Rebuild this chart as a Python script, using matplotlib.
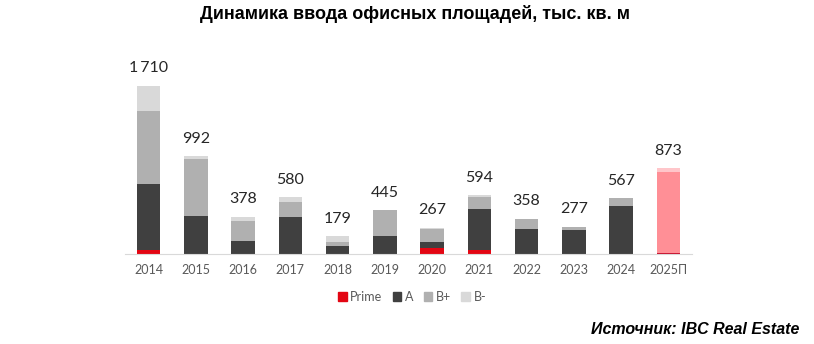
import numpy as np
import matplotlib.pyplot as plt
from matplotlib.patches import Patch

years = ['2014', '2015', '2016', '2017', '2018', '2019', '2020', '2021', '2022', '2023', '2024', '2025П']
prime = [40, 0, 0, 0, 0, 0, 64, 44, 0, 0, 0, 10]
a_class = [675, 388, 132, 378, 81, 182, 61, 409, 257, 240, 486, 820]
b_plus = [732, 580, 203, 146, 41, 263, 131, 125, 101, 30, 81, 43]
b_minus = [263, 24, 43, 56, 57, 0, 11, 16, 0, 7, 0, 0]

# last column is a forecast and gets its own lighter palette
colors = {
    'Prime': ('#e30613', '#c8102e'),
    'A': ('#404040', '#ff8f96'),
    'B+': ('#b0b0b0', '#ffc6ca'),
    'B-': ('#d9d9d9', '#ffe0e2'),
}

plt.rcParams['font.family'] = ['Lato', 'DejaVu Sans']

fig = plt.figure(figsize=(8.14, 3.44), dpi=100)
ax = fig.add_axes([125 / 814, 90 / 344, 567 / 814, 194 / 344])

x = np.arange(len(years))
bottom = np.zeros(len(years))
series = [('Prime', prime), ('A', a_class), ('B+', b_plus), ('B-', b_minus)]
for name, vals in series:
    c_fact, c_fcst = colors[name]
    cols = [c_fact] * (len(years) - 1) + [c_fcst]
    ax.bar(x, vals, width=0.5, bottom=bottom, color=cols, linewidth=0)
    bottom += np.array(vals)

for xi, tot in zip(x, bottom):
    label = f'{int(tot):,}'.replace(',', '\u2009')
    ax.text(xi, tot + 105, label, ha='center', va='bottom',
            fontsize=11.5, color='#262626')

ax.set_xlim(-0.5, 11.5)
ax.set_ylim(0, 1969)
ax.set_xticks(x)
ax.set_xticklabels(years, fontsize=9, color='#595959')
ax.tick_params(axis='x', length=0, pad=7)
ax.set_yticks([])
for side in ['top', 'right', 'left']:
    ax.spines[side].set_visible(False)
ax.spines['bottom'].set_color('#d9d9d9')
ax.spines['bottom'].set_linewidth(0.8)

handles = [Patch(color=colors[n][0]) for n, _ in series]
fig.legend(handles, [n for n, _ in series], loc='center', bbox_to_anchor=(412 / 814, 1 - 297 / 344),
           ncol=4, frameon=False, fontsize=9, handlelength=0.7, handleheight=0.7,
           handletextpad=0.3, columnspacing=0.8, labelcolor='#595959')

fig.text(415 / 814, 1 - 14 / 344, 'Динамика ввода офисных площадей, тыс. кв. м',
         ha='center', va='center', fontsize=13, fontweight='bold',
         family='Liberation Sans', color='black')
fig.text(799 / 814, 1 - 329 / 344, 'Источник: IBC Real Estate', ha='right', va='center',
         fontsize=11.5, fontweight='bold', fontstyle='italic', family='Liberation Sans', color='black')

fig.savefig('out.png', dpi=100)
